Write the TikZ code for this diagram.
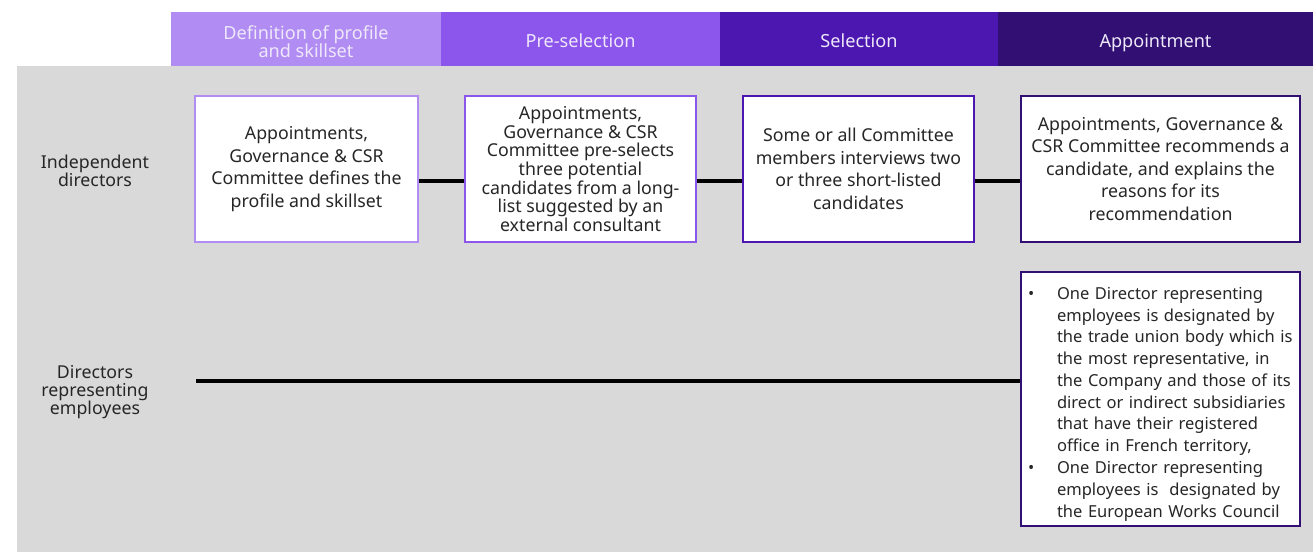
\documentclass[tikz,border=0pt]{standalone}
\usepackage{fontspec}
\setmainfont{Noto Sans}
\usetikzlibrary{positioning}
\definecolor{phaseA}{HTML}{B18CF2}
\definecolor{phaseB}{HTML}{8C55EB}
\definecolor{phaseC}{HTML}{4C17B0}
\definecolor{phaseD}{HTML}{321073}
\definecolor{bggrey}{HTML}{D9D9D9}
\definecolor{txt}{HTML}{262626}
\definecolor{headtxt}{HTML}{EEE8FA}
\newcommand{\bulletpar}[1]{\noindent\hangindent=16.5pt\hangafter=1\makebox[16.5pt][l]{\textbullet}#1\par}
\newcommand{\hstrut}{\rule[-3pt]{0pt}{15.5pt}}
\newcommand{\tightlines}{\lineskiplimit=-20pt\relax}

\begin{document}
\begin{tikzpicture}[x=0.02cm,y=-0.02cm,
    every node/.style={font=\fontsize{10.1}{12.8}\selectfont, text=txt},
    phase/.style={minimum height=1.08cm, inner sep=0pt, align=center,
      text=headtxt, font=\fontsize{10.3}{10.2}\selectfont\tightlines},
    rowlabel/.style={align=center, font=\fontsize{10.1}{10.2}\selectfont},
    proc/.style={draw, line width=1.1pt, fill=white, align=center,
      inner sep=2pt, minimum height=2.92cm},
    link/.style={line width=2.4pt, black}]
  \useasboundingbox (0,0) rectangle (1313,552);
  \fill[bggrey] (17,66) rectangle (1313,552);

  % phases
  \node[phase, fill=phaseA, minimum width=5.4cm] (ph1) at (306,39) {\rule{0pt}{11pt}Definition of profile\\and skillset};
  \node[phase, fill=phaseB, minimum width=5.58cm] (ph2) at (580.5,39) {\hstrut Pre-selection};
  \node[phase, fill=phaseC, minimum width=5.56cm] (ph3) at (859,39) {\hstrut Selection};
  \node[phase, fill=phaseD, minimum width=6.3cm] (ph4) at (1155.5,39) {\hstrut Appointment};

  % rows
  \node[rowlabel] (indep) at (95,171) {Independent\\directors};
  \node[rowlabel] (empl) at (95,392) {Directors\\representing\\employees};

  % independent directors
  \node[proc, draw=phaseA, minimum width=4.46cm] (b1) at (306.5,169)
    {Appointments,\\Governance \& CSR\\Committee defines the\\profile and skillset};
  \node[proc, draw=phaseB, minimum width=4.62cm,
    font=\fontsize{10.1}{10.6}\selectfont] (b2) at (580.5,169)
    {Appointments,\\Governance \& CSR\\Committee pre-selects\\three potential\\candidates from a long-\\list suggested by an\\external consultant};
  \node[proc, draw=phaseC, minimum width=4.62cm] (b3) at (858.5,169)
    {Some or all Committee\\members interviews two\\or three short-listed\\candidates};
  \node[proc, draw=phaseD, minimum width=5.58cm] (b4) at (1160.5,169)
    {Appointments, Governance \&\\CSR Committee recommends a\\candidate, and explains the\\reasons for its\\recommendation};

  % directors representing employees
  \node[proc, draw=phaseD, minimum width=5.58cm, minimum height=5.08cm,
    align=left, text width=5.3cm, inner xsep=3.5pt,
    font=\fontsize{9.4}{12.4}\selectfont] (b5) at (1160.5,399)
    {\bulletpar{\rule{0pt}{12.7pt}One Director representing\newline employees is designated by\newline the trade union body which is\newline the most representative, in\newline the Company and those of its\newline direct or indirect subsidiaries\newline that have their registered\newline office in French territory,}
     \bulletpar{One Director representing\newline employees is\ \ designated by\newline the European Works Council}};

  \coordinate (r1) at (0,181);
  \coordinate (s2) at (196,381);
  \draw[link] (b1.east |- r1) -- (b2.west |- r1);
  \draw[link] (b2.east |- r1) -- (b3.west |- r1);
  \draw[link] (b3.east |- r1) -- (b4.west |- r1);
  \draw[link] (s2) -- (b5.west |- s2);
\end{tikzpicture}
\end{document}
